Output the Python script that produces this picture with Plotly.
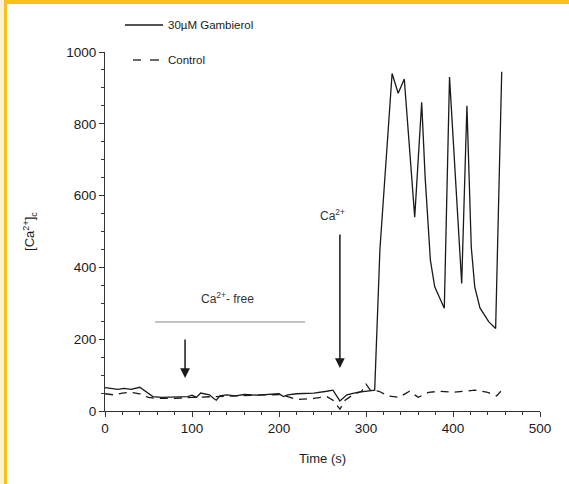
import plotly.graph_objects as go

# --- data ---
gamb_t = [0, 8, 15, 22, 30, 40, 48, 55, 65, 80, 95, 100, 105, 110, 120, 125, 128, 132, 140,
          150, 160, 175, 190, 200, 205, 210, 220, 240, 255, 262, 270, 278, 290, 300, 310,
          316, 330, 337, 344, 356, 364, 368, 374, 379, 390, 396, 410, 416, 421, 425, 431,
          441, 449, 456]
gamb_ca = [65, 62, 60, 63, 60, 66, 52, 40, 38, 40, 40, 44, 38, 50, 45, 35, 30, 42, 45,
           42, 46, 44, 46, 48, 40, 45, 48, 50, 55, 58, 28, 45, 52, 55, 58,
           450, 940, 885, 925, 540, 860, 650, 420, 346, 286, 930, 355, 850, 457, 346, 287,
           249, 230, 945]

ctrl_t = [0, 10, 20, 30, 40, 50, 60, 80, 100, 120, 140, 160, 180, 200, 210, 220, 240, 255,
          262, 270, 276, 285, 295, 300, 305, 315, 325, 338, 350, 360, 372, 385, 400, 415,
          425, 440, 450, 455]
ctrl_ca = [48, 45, 50, 52, 48, 38, 35, 35, 38, 40, 42, 44, 45, 46, 40, 32, 35, 40,
           30, 5, 30, 45, 55, 75, 58, 55, 42, 38, 55, 38, 52, 55, 52, 55,
           58, 52, 42, 55]

FONT = "Liberation Sans, Arial, sans-serif"
INK = "#1a1a1a"

fig = go.Figure()
fig.add_trace(go.Scatter(x=gamb_t, y=gamb_ca, mode="lines", name="30µM Gambierol",
                         line=dict(color=INK, width=1.3), showlegend=False))
fig.add_trace(go.Scatter(x=ctrl_t, y=ctrl_ca, mode="lines", name="Control",
                         line=dict(color=INK, width=1.3, dash="8px,6px"), showlegend=False))

# plot area in pixels: left 105, right 540, top 52, bottom 411
L, R, T, B = 105, 540, 52, 411
def px(x):
    return (x - L) / (R - L)
def py(y):
    return (B - y) / (B - T)

shapes = [
    # frame decoration
    dict(type="rect", xref="paper", yref="paper", x0=px(0), x1=px(4), y0=py(484), y1=py(0),
         fillcolor="#fcefd2", line=dict(width=0)),
    dict(type="rect", xref="paper", yref="paper", x0=px(4), x1=px(7), y0=py(484), y1=py(0),
         fillcolor="#f7c21b", line=dict(width=0)),
    dict(type="rect", xref="paper", yref="paper", x0=px(4), x1=px(569), y0=py(4), y1=py(0),
         fillcolor="#f7c21b", line=dict(width=0)),
    # legend samples
    dict(type="line", xref="paper", yref="paper", x0=px(125), x1=px(163), y0=py(25), y1=py(25),
         line=dict(color=INK, width=1.3)),
    dict(type="line", xref="paper", yref="paper", x0=px(133), x1=px(141), y0=py(60), y1=py(60),
         line=dict(color=INK, width=1.3)),
    dict(type="line", xref="paper", yref="paper", x0=px(150), x1=px(159), y0=py(60), y1=py(60),
         line=dict(color=INK, width=1.3)),
    # Ca-free bar
    dict(type="line", xref="x", yref="y", x0=57.5, x1=230, y0=248, y1=248,
         line=dict(color="#888888", width=1)),
]

annotations = [
    dict(xref="paper", yref="paper", x=px(166), y=py(25), text="30µM Gambierol",
         showarrow=False, xanchor="left", yanchor="middle", font=dict(size=11.5, color=INK)),
    dict(xref="paper", yref="paper", x=px(166), y=py(60), text="Control",
         showarrow=False, xanchor="left", yanchor="middle", font=dict(size=11.5, color=INK)),
    dict(xref="x", yref="y", x=141, y=315, text="Ca<sup>2+</sup>- free", showarrow=False,
         font=dict(size=12, color="#333")),
    dict(xref="x", yref="y", x=262, y=545, text="Ca<sup>2+</sup>", showarrow=False,
         font=dict(size=12, color="#333")),
    dict(xref="x", yref="y", x=92, y=92, ax=92, ay=203, axref="x", ayref="y", text="",
         showarrow=True, arrowhead=2, arrowsize=1.3, arrowwidth=1.5, arrowcolor=INK),
    dict(xref="x", yref="y", x=270, y=120, ax=270, ay=496, axref="x", ayref="y", text="",
         showarrow=True, arrowhead=2, arrowsize=1.3, arrowwidth=1.5, arrowcolor=INK),
]

axis_common = dict(showgrid=False, zeroline=False, showline=True, linecolor="#333",
                   linewidth=1.2, ticks="outside", ticklen=5, tickwidth=1.2, tickcolor="#333",
                   tickfont=dict(size=13.5, color=INK, family=FONT), mirror=False)

fig.update_layout(
    width=569, height=484,
    margin=dict(l=L, r=569 - R, t=T, b=484 - B),
    paper_bgcolor="white", plot_bgcolor="white",
    font=dict(family=FONT, color=INK),
    xaxis=dict(range=[0, 500], tickvals=[0, 100, 200, 300, 400, 500],
               minor=dict(dtick=20, ticks="outside", ticklen=3, tickcolor="#333"),
               title=dict(text="Time (s)", font=dict(size=13), standoff=18), **axis_common),
    yaxis=dict(range=[0, 1000], tickvals=[0, 200, 400, 600, 800, 1000],
               minor=dict(dtick=50, ticks="outside", ticklen=3, tickcolor="#333"),
               title=dict(text="[Ca<sup>2+</sup>]<sub>c</sub>", font=dict(size=13), standoff=28),
               **axis_common),
    shapes=shapes, annotations=annotations,
)

# drop the page's default body margin so the figure sits at the window's origin
fig.write_html("out.html", config={"displayModeBar": False},
               post_script="document.body.style.margin='0';")
